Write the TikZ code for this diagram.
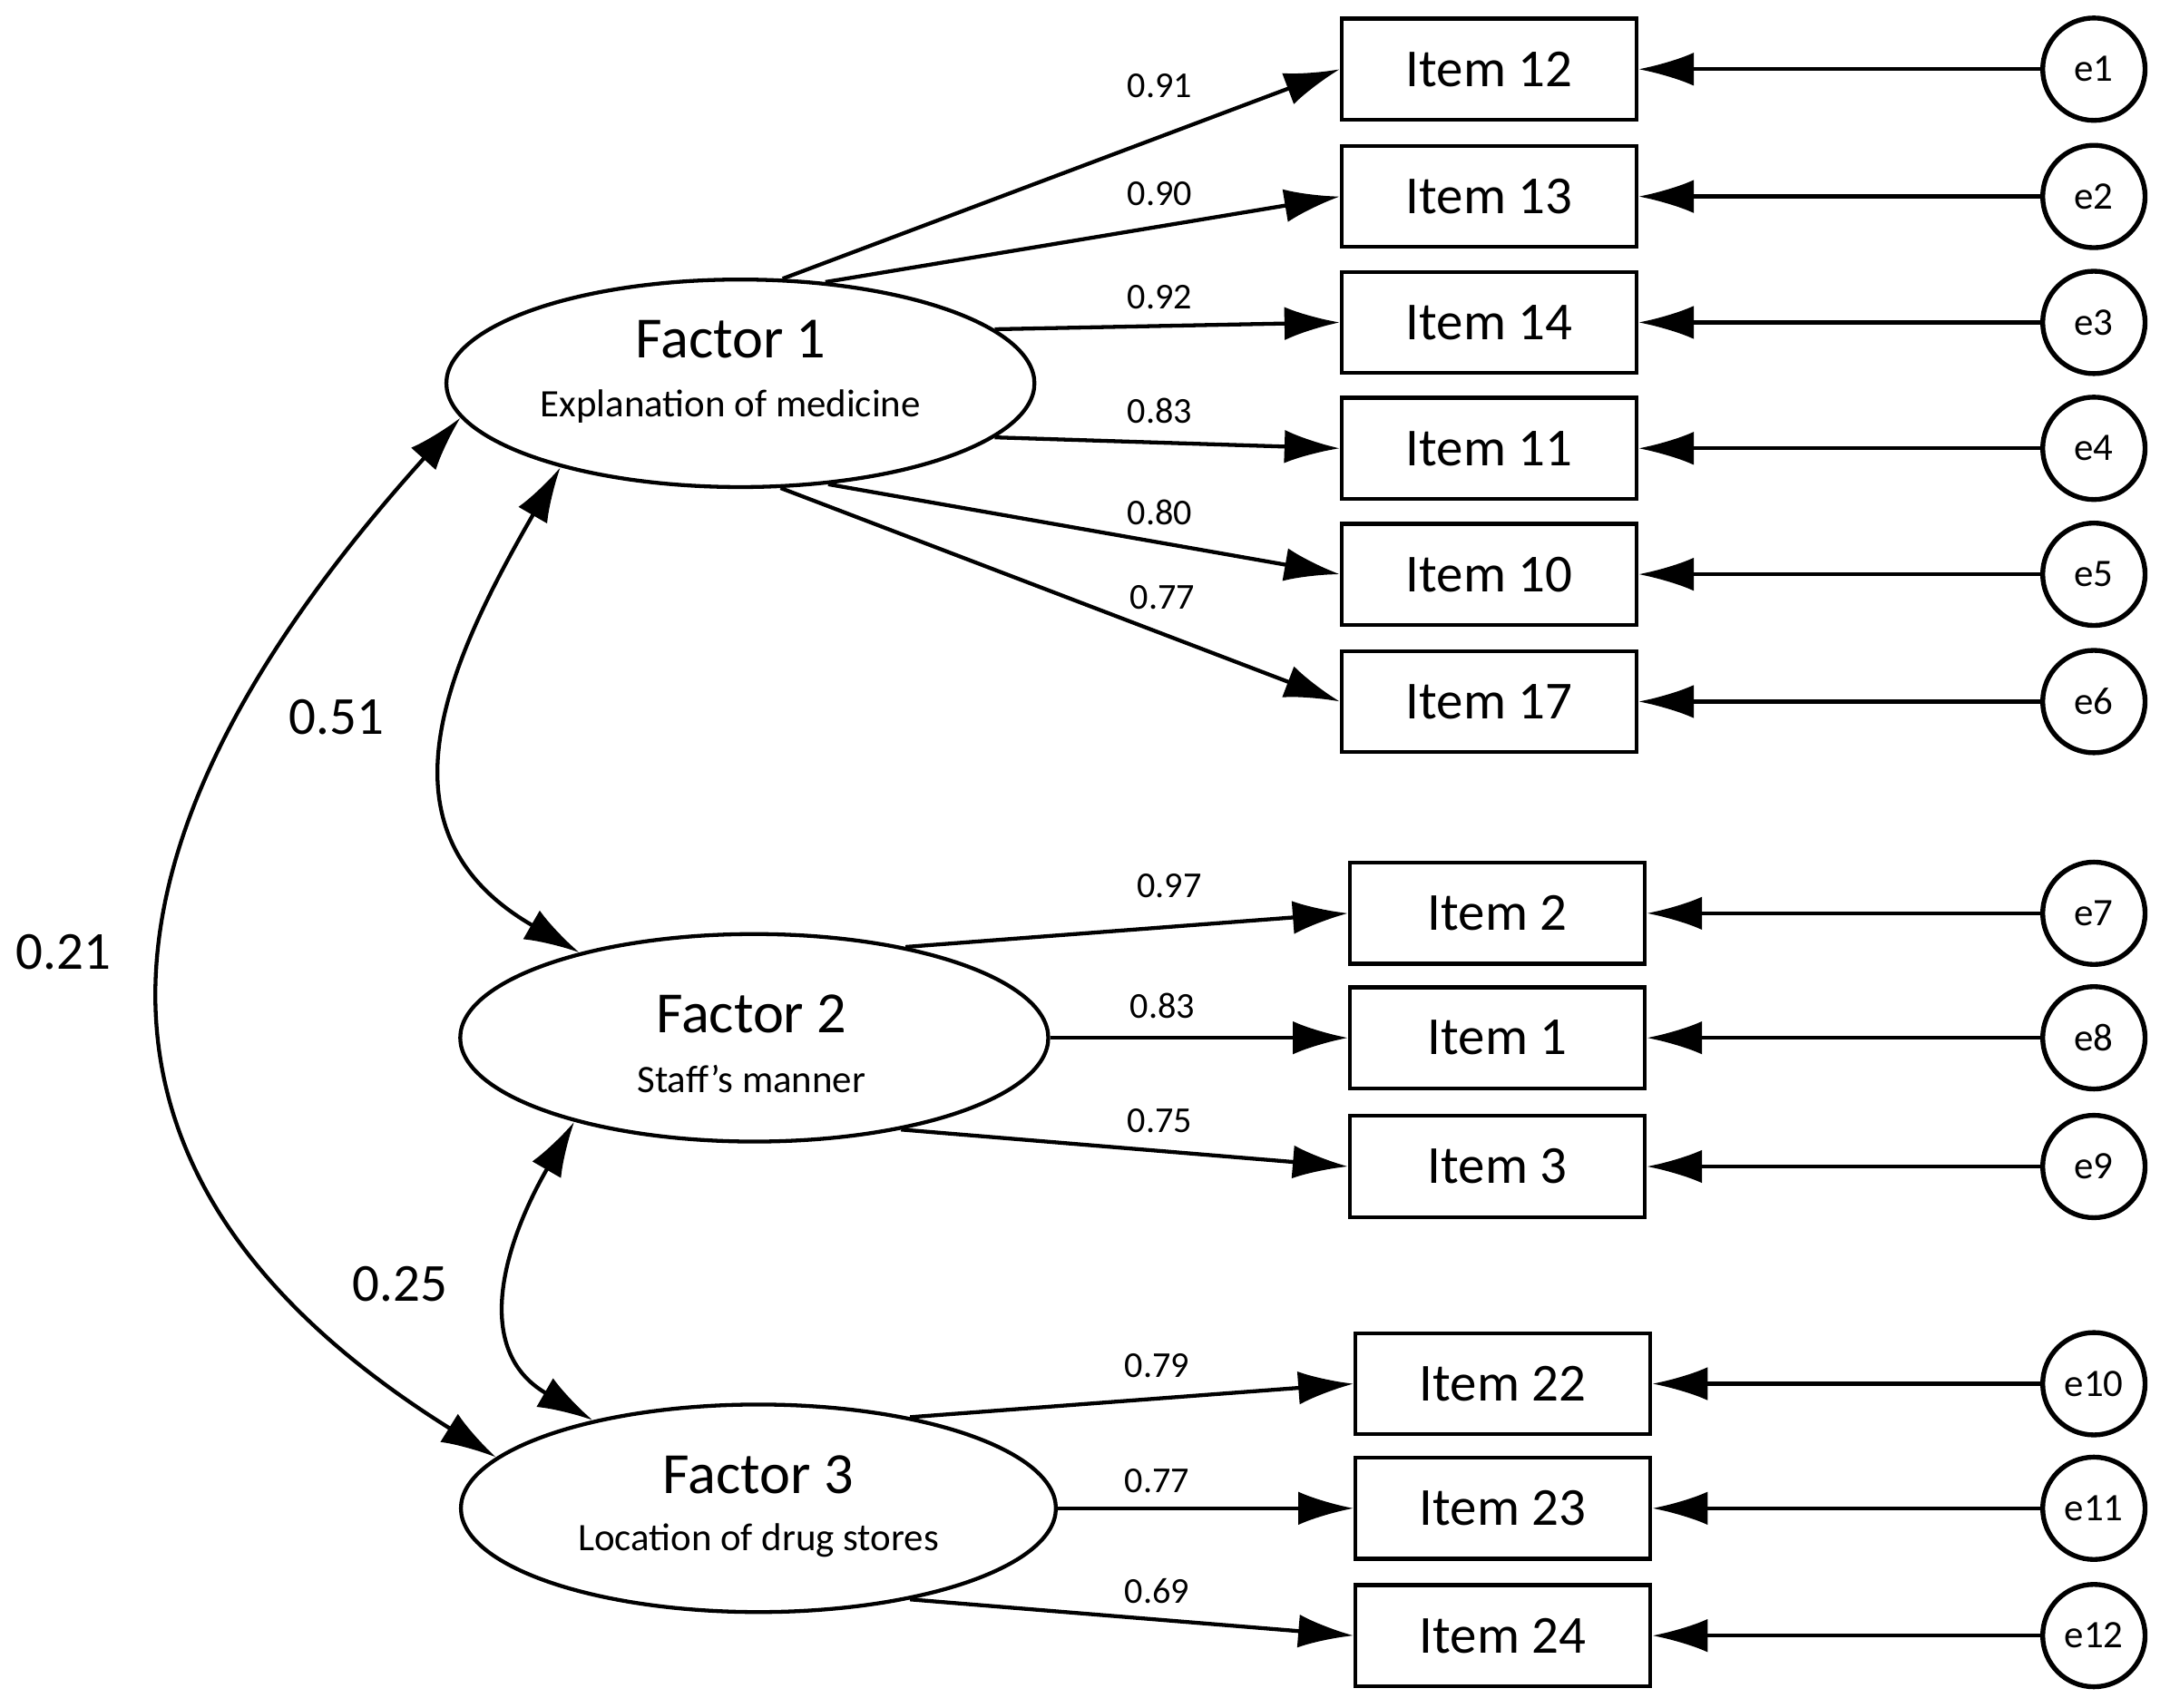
\documentclass[tikz,border=0pt]{standalone}
\usepackage{fontspec}
\setmainfont{Carlito}
\usetikzlibrary{shapes.geometric,arrows.meta}
\begin{document}
\begin{tikzpicture}[x=0.02cm,y=-0.02cm,
  line width=1.6pt,
  arr/.style={-{Latex[length=0.8cm,width=0.48cm]}},
  darr/.style={{Latex[length=0.8cm,width=0.48cm]}-{Latex[length=0.8cm,width=0.48cm]}},
  item/.style={draw,minimum width=4.26cm,minimum height=1.46cm,font=\fontsize{22}{26}\selectfont,inner sep=0pt},
  err/.style={draw,circle,minimum size=1.48cm,inner sep=0pt,line width=2pt,font=\fontsize{16}{19}\selectfont},
  fac/.style={draw,ellipse,minimum width=8.5cm,minimum height=3cm,inner sep=0pt},
  ftitle/.style={font=\fontsize{24}{28}\selectfont},
  fsub/.style={font=\fontsize{16}{19}\selectfont},
  lab/.style={font=\fontsize{15}{18}\selectfont},
  cov/.style={font=\fontsize{22}{26}\selectfont}]
\useasboundingbox (0,0) rectangle (1568,1234);
\node[fac] (f1) at (535,277) {};
\node[ftitle] (t1) at (528,245) {Factor 1};
\node[fsub] (s1) at (528,294) {Explanation of medicine};
\node[fac] (f2) at (545,750) {};
\node[ftitle] (t2) at (543,733) {Factor 2};
\node[fsub] (s2) at (543,780) {Staff’s manner};
\node[fac,minimum width=8.6cm] (f3) at (548,1090) {};
\node[ftitle] (t3) at (548,1066) {Factor 3};
\node[fsub] (s3) at (548,1113) {Location of drug stores};
\foreach \n/\t/\x/\y/\e/\a/\f/\l/\lx/\ly in {
 i12/Item 12/1076/50/e1/68/f1/0.91/838/62,
 i13/Item 13/1076/142/e2/50/f1/0.90/838/140,
 i14/Item 14/1076/233/e3/12/f1/0.92/838/215,
 i11/Item 11/1076/324/e4/-12/f1/0.83/838/297,
 i10/Item 10/1076/415/e5/-49/f1/0.80/838/370,
 i17/Item 17/1076/507/e6/-69/f1/0.77/840/432,
 i2/Item 2/1082/660/e7/31/f2/0.97/845/640,
 i1/Item 1/1082/750/e8/0/f2/0.83/840/727,
 i3/Item 3/1082/843/e9/-32/f2/0.75/838/810,
 i22/Item 22/1086/1000/e10/31/f3/0.79/836/987,
 i23/Item 23/1086/1090/e11/0/f3/0.77/836/1070,
 i24/Item 24/1086/1182/e12/-31/f3/0.69/836/1150}{
  \node[item] (\n) at (\x,\y) {\t};
  \node[err] (\e) at (1513,\y) {\e};
  \draw[arr] (\e) -- (\n);
  \draw[arr] (\f.\a) -- (\n.west);
  \node[lab] (l\n) at (\lx,\ly) {\l};
}
\draw[darr] (f1.205) to[out=240,in=150,looseness=1.25] (f2.154);
\draw[darr] (f2.205) to[out=240,in=150,looseness=1.2] (f3.152);
\draw[darr] (f1.187) to[out=228,in=148,looseness=1.35] (f3.169);
\node[cov] (c51) at (243,518) {0.51};
\node[cov] (c25) at (289,928) {0.25};
\node[cov] (c21) at (46,688) {0.21};
\end{tikzpicture}
\end{document}
